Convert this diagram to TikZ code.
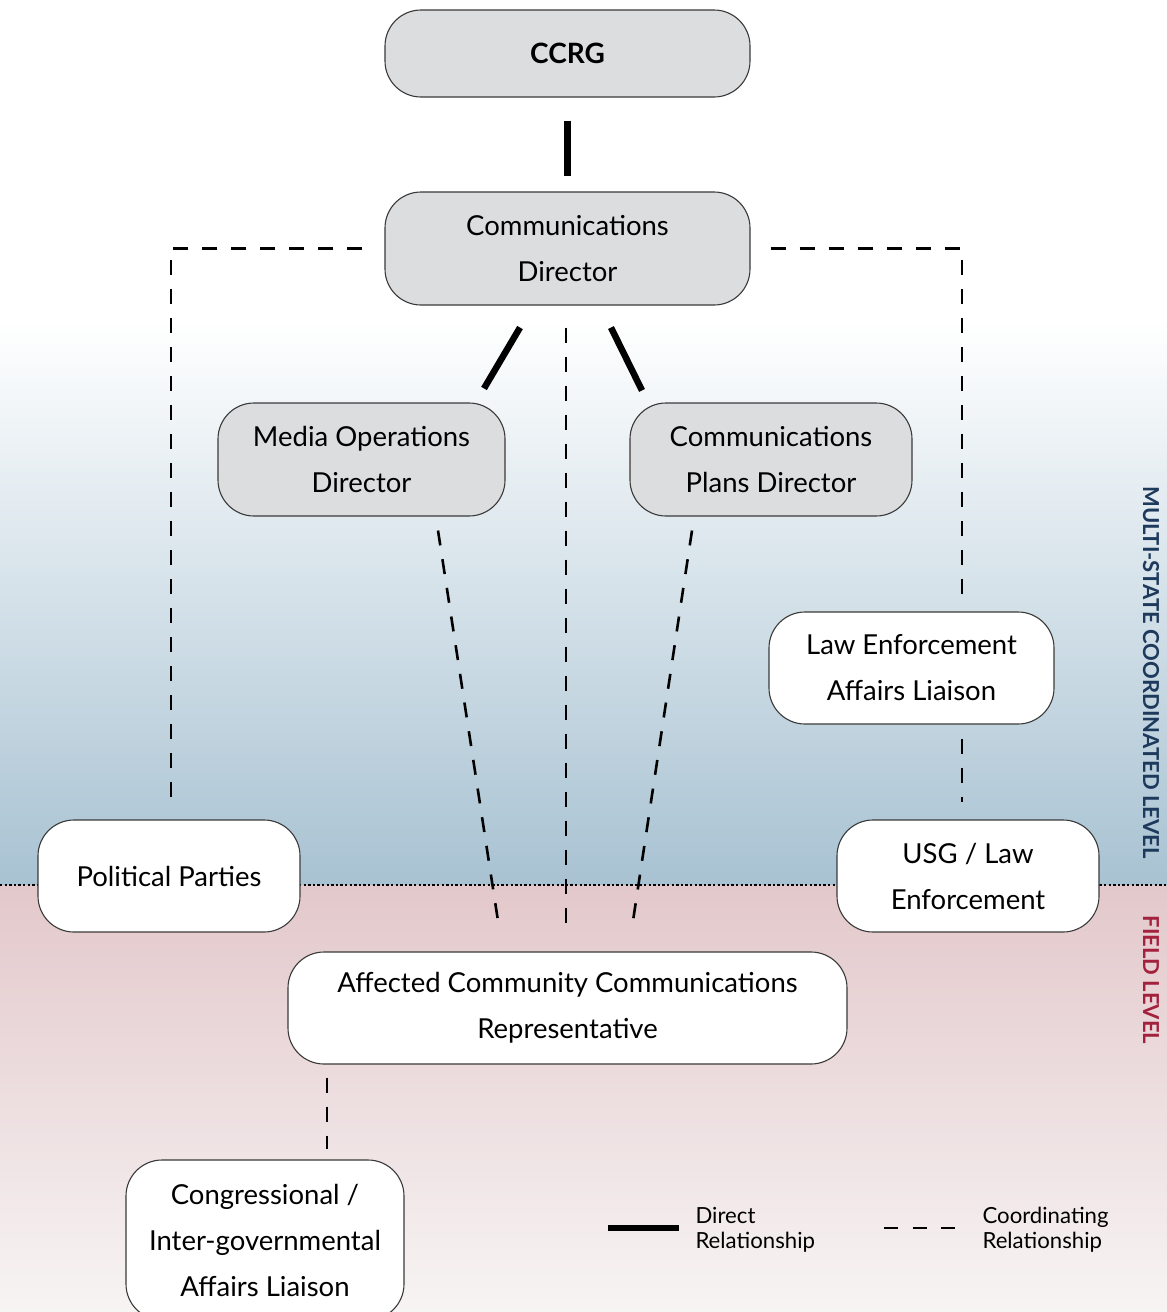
\documentclass[tikz,border=0pt]{standalone}
\usepackage{fontspec}
\setmainfont{Lato}
\usetikzlibrary{calc}
\definecolor{boxgray}{HTML}{DCDDDE}
\definecolor{boxline}{HTML}{3A3A3A}
\definecolor{topblue}{HTML}{A8C2D2}
\definecolor{fieldpink}{HTML}{E3C8CB}
\definecolor{fieldlow}{HTML}{F7F4F4}
\definecolor{navy}{HTML}{1D3A5C}
\definecolor{darkred}{HTML}{A3213D}
\tikzset{
  box/.style={draw=boxline, line width=1.1pt, rounded corners=36pt, align=center,
    font=\fontsize{27.5}{46}\selectfont, inner sep=0pt},
  graybox/.style={box, fill=boxgray},
  whitebox/.style={box, fill=white},
  direct/.style={line width=6.5pt},
  coord/.style={line width=2.6pt, dash pattern=on 15pt off 14pt},
  legtext/.style={anchor=west, align=left, font=\fontsize{22.2}{25}\selectfont},
  sidelabel/.style={rotate=-90, font=\bfseries\fontsize{22}{24}\selectfont}
}
\begin{document}
\begin{tikzpicture}[x=1pt,y=-1pt]
\useasboundingbox (0,0) rectangle (1167,1312);
% background
\fill[white] (0,0) rectangle (1167,320);
\shade[top color=white, bottom color=topblue] (0,320) rectangle (1167,885);
\shade[top color=fieldpink, bottom color=fieldlow] (0,885) rectangle (1167,1312);
\draw[line width=2.6pt, dash pattern=on 2.4pt off 2.2pt] (0,885) -- (1167,885);
% side labels
\node[sidelabel, text=navy] (lvl1) at (1151,672.5) {MULTI-STATE COORDINATED LEVEL};
\node[sidelabel, text=darkred] (lvl2) at (1151,980) {FIELD LEVEL};
% nodes
\node[graybox, minimum width=365pt, minimum height=87pt, font=\bfseries\fontsize{28}{46}\selectfont] (ccrg) at (567.5,53.5) {CCRG};
\node[graybox, minimum width=365pt, minimum height=113pt] (cd) at (567.5,248.5) {Communications\\Director};
\node[graybox, minimum width=287pt, minimum height=113pt] (mod) at (361.5,459.5) {Media Operations\\Director};
\node[graybox, minimum width=282pt, minimum height=113pt] (cpd) at (771,459.5) {Communications\\Plans Director};
\node[whitebox, minimum width=285pt, minimum height=112pt] (lea) at (911.5,668) {Law Enforcement\\Affairs Liaison};
\node[whitebox, minimum width=262pt, minimum height=112pt] (pp) at (169,876) {Political Parties};
\node[whitebox, minimum width=262pt, minimum height=112pt] (usg) at (968,876) {USG / Law\\Enforcement};
\node[whitebox, minimum width=559pt, minimum height=112pt] (acc) at (567.5,1008) {Affected Community Communications\\Representative};
\node[whitebox, minimum width=278pt, minimum height=160pt] (cong) at (265,1240) {Congressional /\\Inter-governmental\\Affairs Liaison};
% direct connectors
\draw[direct] ([yshift=-23pt]ccrg.south) -- ([yshift=15pt]cd.north);
\draw[direct] ([xshift=-47.5pt,yshift=-22pt]cd.south) -- ([xshift=122.5pt,yshift=14pt]mod.north);
\draw[direct] ([xshift=43.5pt,yshift=-22pt]cd.south) -- ([xshift=-129pt,yshift=12pt]cpd.north);
% coordinating connectors
\draw[coord] ([xshift=-1.5pt,yshift=-22pt]cd.south) -- ([xshift=-1.5pt,yshift=24pt]acc.north);
\draw[coord] ([xshift=76.5pt,yshift=-14pt]mod.south) -- ([xshift=-68.5pt,yshift=24pt]acc.north);
\draw[coord] ([xshift=-79pt,yshift=-14pt]cpd.south) -- ([xshift=64.5pt,yshift=24pt]acc.north);
\draw[coord] ([xshift=-22pt]cd.west) -| ([xshift=2pt,yshift=17pt]pp.north);
\draw[coord] ([xshift=20pt]cd.east) -| ([xshift=50.5pt,yshift=17pt]lea.north);
\draw[coord] ([xshift=50.5pt,yshift=-14pt]lea.south) -- ([xshift=-6pt,yshift=17pt]usg.north);
\draw[coord] ([xshift=-240.5pt,yshift=-13pt]acc.south) -- ([xshift=62pt,yshift=10pt]cong.north);
% legend
\coordinate (l1a) at (608,1228);
\coordinate (l1b) at (679,1228);
\coordinate (l2a) at (884,1228);
\coordinate (l2b) at (955,1228);
\draw[direct] (l1a) -- (l1b);
\draw[line width=2.6pt, dash pattern=on 14pt off 14.5pt] (l2a) -- (l2b);
\node[legtext] (lt1) at (692,1230) {Direct\\Relationship};
\node[legtext] (lt2) at (979,1230) {Coordinating\\Relationship};
\end{tikzpicture}
\end{document}
